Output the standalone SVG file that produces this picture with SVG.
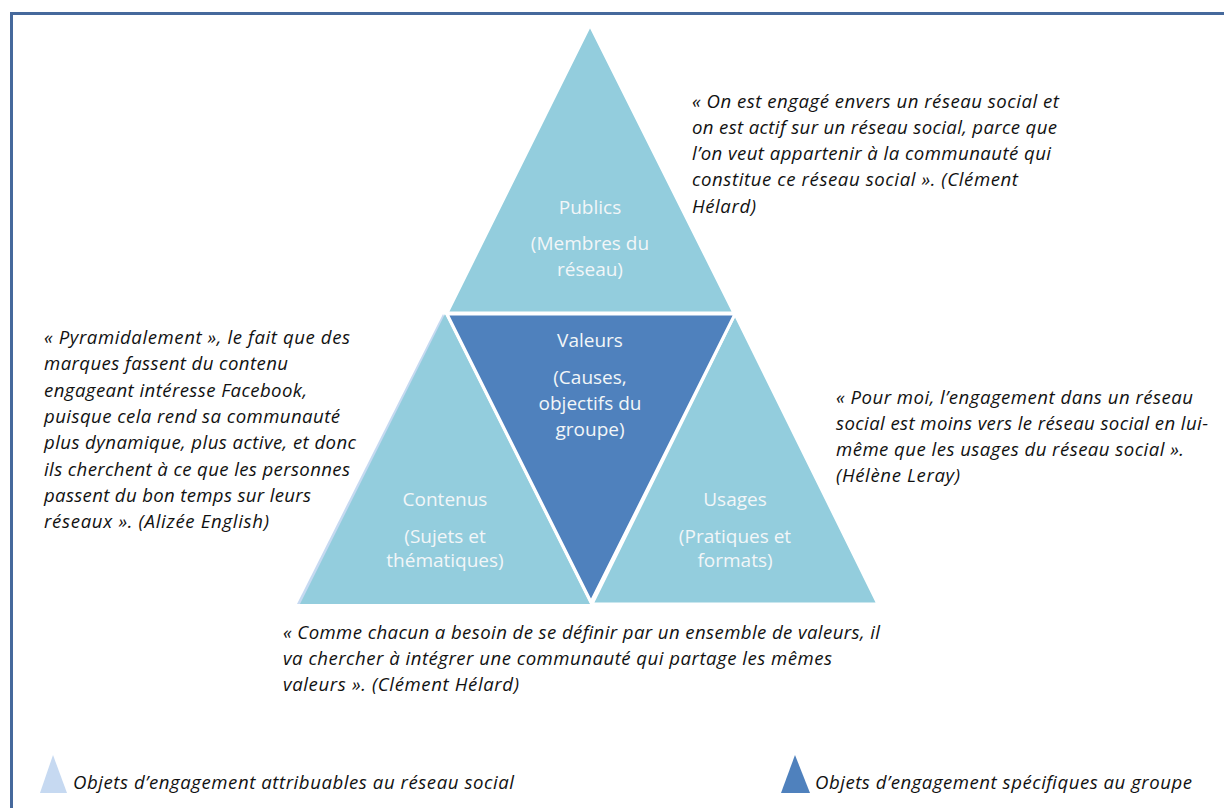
<svg xmlns="http://www.w3.org/2000/svg" width="1224" height="808" viewBox="0 0 1224 808">
<style>
.q{font-family:"Open Sans","Liberation Sans",sans-serif;font-style:italic;font-size:18.6px;fill:#111}
.lbl{font-family:"Open Sans","Liberation Sans",sans-serif;font-size:19px;fill:#F2F6F8;text-anchor:middle}
.light{fill:#93CDDD;stroke:#fff;stroke-width:3;stroke-linejoin:miter}
.dark{fill:#4F81BD;stroke:#fff;stroke-width:3}
</style>
<rect width="1224" height="808" fill="#fff"/>
<path d="M11.5 808 V13.5 H1224" fill="none" stroke="#46699C" stroke-width="3"/>
<g id="contenus">
<polygon points="443,314 297,604 588,604" fill="#C6D9F1"/>
<polygon points="445,314 300,604 590,604" fill="#93CDDD"/>
<text class="lbl" x="445" y="506">Contenus</text>
<text class="lbl" x="445" y="543">(Sujets et</text>
<text class="lbl" x="445" y="567">thématiques)</text>
</g>
<g id="usages">
<polygon class="light" points="735,314 592,604 878,604"/>
<text class="lbl" x="735" y="506">Usages</text>
<text class="lbl" x="735" y="543">(Pratiques et</text>
<text class="lbl" x="735" y="567">formats)</text>
</g>
<g id="publics">
<polygon class="light" points="590,25 447,313 734,313"/>
<text class="lbl" x="590" y="214">Publics</text>
<text class="lbl" x="590" y="250">(Membres du</text>
<text class="lbl" x="590" y="276">réseau)</text>
</g>
<g id="valeurs">
<polygon class="dark" points="447,314 735,314 591,602"/>
<text class="lbl" x="590" y="347">Valeurs</text>
<text class="lbl" x="590" y="384">(Causes,</text>
<text class="lbl" x="590" y="410">objectifs du</text>
<text class="lbl" x="590" y="436">groupe)</text>
</g>
<g id="quote-top">
<text class="q" x="692" y="108" textLength="367">« On est engagé envers un réseau social et</text>
<text class="q" x="692" y="134" textLength="365">on est actif sur un réseau social, parce que</text>
<text class="q" x="692" y="160" textLength="359">l’on veut appartenir à la communauté qui</text>
<text class="q" x="692" y="186" textLength="326">constitue ce réseau social ». (Clément</text>
<text class="q" x="692" y="213" textLength="64">Hélard)</text>
</g>
<g id="quote-left">
<text class="q" x="44" y="344" textLength="306">« Pyramidalement », le fait que des</text>
<text class="q" x="44" y="370" textLength="244">marques fassent du contenu</text>
<text class="q" x="44" y="397" textLength="263">engageant intéresse Facebook,</text>
<text class="q" x="44" y="423" textLength="296">puisque cela rend sa communauté</text>
<text class="q" x="44" y="449" textLength="312">plus dynamique, plus active, et donc</text>
<text class="q" x="44" y="476" textLength="306">ils cherchent à ce que les personnes</text>
<text class="q" x="44" y="502" textLength="267">passent du bon temps sur leurs</text>
<text class="q" x="44" y="528" textLength="225">réseaux ». (Alizée English)</text>
</g>
<g id="quote-right">
<text class="q" x="836" y="404" textLength="357">« Pour moi, l’engagement dans un réseau</text>
<text class="q" x="836" y="430" textLength="372">social est moins vers le réseau social en lui-</text>
<text class="q" x="836" y="456" textLength="348">même que les usages du réseau social ».</text>
<text class="q" x="836" y="482" textLength="124">(Hélène Leray)</text>
</g>
<g id="quote-bottom">
<text class="q" x="283" y="639" textLength="597">« Comme chacun a besoin de se définir par un ensemble de valeurs, il</text>
<text class="q" x="283" y="665" textLength="549">va chercher à intégrer une communauté qui partage les mêmes</text>
<text class="q" x="283" y="691" textLength="236">valeurs ». (Clément Hélard)</text>
</g>
<g id="legend">
<polygon points="53,755 40,793 67,793" fill="#C6D9F1"/>
<text class="q" x="73" y="789" textLength="441">Objets d’engagement attribuables au réseau social</text>
<polygon points="795,755 781,793 810,793" fill="#4F81BD"/>
<text class="q" x="815" y="789" textLength="377">Objets d’engagement spécifiques au groupe</text>
</g>
</svg>
